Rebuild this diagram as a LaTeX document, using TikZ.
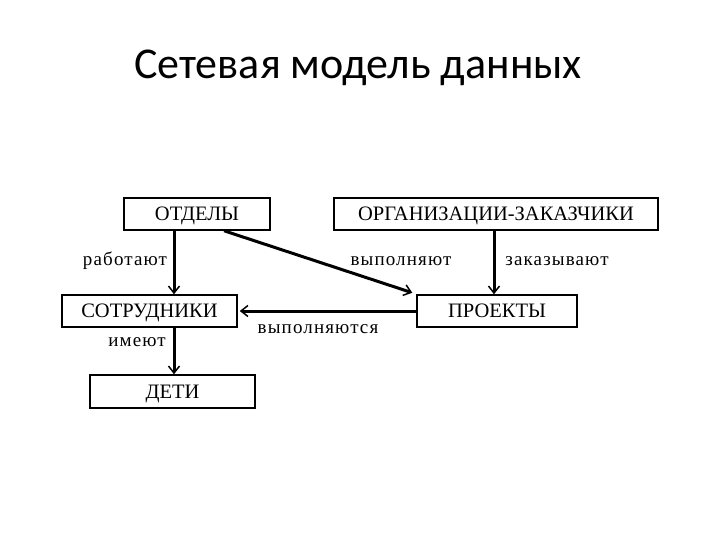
\documentclass[tikz,border=0pt]{standalone}
\usepackage{fontspec}
\setmainfont{Liberation Serif}
\newfontfamily\titlefont{Carlito}
\newfontfamily\lblfont[LetterSpace=6]{Liberation Serif}
\usetikzlibrary{arrows.meta}
\begin{document}
\begin{tikzpicture}[x=1pt,y=-1pt,
  box/.style={draw,line width=1.5pt,inner sep=0pt,text height=13.5pt,text depth=0pt,font=\fontsize{20.5}{24}\selectfont},
  lbl/.style={font=\lblfont\fontsize{19}{22}\selectfont,inner sep=0pt},
  arr/.style={line width=3pt,-{Straight Barb[length=7pt,width=11pt,line width=1.5pt]}}]
\useasboundingbox (0,0) rectangle (720,540);
\node[font=\titlefont\fontsize{44}{50}\selectfont] (title) at (358,68) {Сетевая модель данных};
\node[box,minimum width=146,minimum height=32] (otd) at (197,214) {ОТДЕЛЫ};
\node[box,minimum width=324,minimum height=32] (org) at (496,214) {ОРГАНИЗАЦИИ-ЗАКАЗЧИКИ};
\node[box,minimum width=175,minimum height=32] (sotr) at (149.5,311) {СОТРУДНИКИ};
\node[box,minimum width=160,minimum height=32] (proj) at (497,311) {ПРОЕКТЫ};
\node[box,minimum width=165,minimum height=33] (deti) at (172.5,391.5) {ДЕТИ};
\draw[arr] (otd.south -| 174,0) -- (sotr.north -| 174,0);
\draw[arr] (sotr.south -| 174,0) -- (deti.north -| 174,0);
\draw[arr] (otd.south -| 224,0) -- ([xshift=-4pt,yshift=1.5pt]proj.north west);
\draw[arr] (org.south -| 494,0) -- (proj.north -| 494,0);
\draw[arr,shorten >=2pt] (proj.west) -- (sotr.east);
\node[lbl] (l1) at (125,261) {работают};
\node[lbl] (l2) at (137,342) {имеют};
\node[lbl] (l3) at (401,261) {выполняют};
\node[lbl] (l4) at (557,261) {заказывают};
\node[lbl] (l5) at (318,329) {выполняются};
\end{tikzpicture}
\end{document}
